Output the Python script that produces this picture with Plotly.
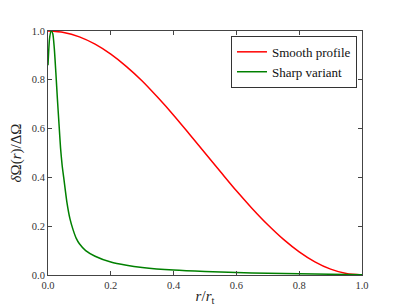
import plotly.graph_objects as go

r_smooth = [0.0, 0.05, 0.1, 0.15, 0.2, 0.25, 0.3, 0.35, 0.4, 0.45, 0.5,
            0.55, 0.6, 0.65, 0.7, 0.75, 0.8, 0.85, 0.9, 0.95, 1.0]
v_smooth = [1.0, 0.994, 0.976, 0.946, 0.905, 0.854, 0.795, 0.727, 0.655, 0.578, 0.5,
            0.422, 0.345, 0.273, 0.206, 0.146, 0.095, 0.054, 0.024, 0.006, 0.0]

r_sharp = [0.0, 0.005, 0.01, 0.015, 0.02, 0.025, 0.03, 0.035, 0.04, 0.045, 0.05,
           0.06, 0.07, 0.08, 0.09, 0.1, 0.12, 0.15, 0.2, 0.25, 0.3, 0.4, 0.5,
           0.6, 0.7, 0.8, 0.9, 1.0]
v_sharp = [0.86, 0.97, 1.0, 0.99, 0.93, 0.83, 0.72, 0.62, 0.52, 0.45, 0.40,
           0.30, 0.23, 0.185, 0.15, 0.128, 0.10, 0.077, 0.053, 0.04, 0.031, 0.02, 0.014,
           0.010, 0.007, 0.005, 0.003, 0.001]

tick_vals = [0.0, 0.2, 0.4, 0.6, 0.8, 1.0]
tick_text = ["0.0", "0.2", "0.4", "0.6", "0.8", "1.0"]

FONT = "Liberation Serif"

fig = go.Figure()
fig.add_trace(go.Scatter(x=r_smooth, y=v_smooth, mode="lines", name="Smooth profile",
                         line=dict(color="#ff0000", width=1.5, shape="spline", smoothing=0.8)))
fig.add_trace(go.Scatter(x=r_sharp, y=v_sharp, mode="lines", name="Sharp variant",
                         line=dict(color="#008000", width=1.5, shape="spline", smoothing=0.6)))

axis_common = dict(showgrid=False, zeroline=False, showline=True, mirror="ticks",
                   linecolor="#444444", linewidth=1, ticks="inside", ticklen=4,
                   tickcolor="#444444", tickfont=dict(family=FONT, size=10.5, color="#333333"),
                   tickvals=tick_vals, ticktext=tick_text, automargin=False)

fig.update_layout(
    width=403, height=306,
    margin=dict(l=48, r=41, t=31, b=31, autoexpand=False),
    paper_bgcolor="white", plot_bgcolor="white",
    font=dict(family=FONT, color="#222222"),
    xaxis=dict(range=[0, 1], title=dict(text="<i>r</i>/<i>r</i><sub>t</sub>",
                                        font=dict(family=FONT, size=15), standoff=2),
               **axis_common),
    yaxis=dict(range=[0, 1], title=dict(text="<i>δ</i>Ω(<i>r</i>)/ΔΩ",
                                        font=dict(family=FONT, size=15), standoff=6),
               **axis_common),
    legend=dict(x=0.984, y=0.98, xanchor="right", yanchor="top",
                bgcolor="white", bordercolor="#333333", borderwidth=1,
                font=dict(family=FONT, size=13, color="#111111"),
                itemwidth=30, tracegroupgap=2),
    showlegend=True,
)

fig.write_html("out.html", config={"displayModeBar": False},
               post_script="document.body.style.margin='0';document.body.style.padding='0';")
